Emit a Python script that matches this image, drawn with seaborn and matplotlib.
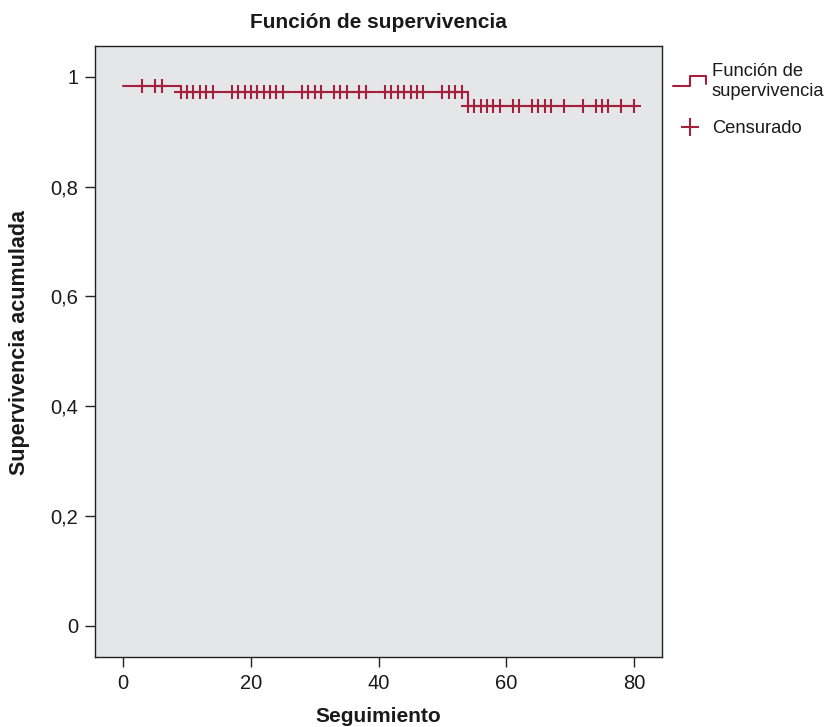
import matplotlib
matplotlib.use("Agg")
import matplotlib.pyplot as plt
import seaborn as sns
import pandas as pd
from matplotlib.legend_handler import HandlerBase
from matplotlib.lines import Line2D

# Data
step_times = [0, 9, 54, 80]
step_surv = [0.984, 0.973, 0.946, 0.946]
cens_times = [3, 5, 6,
              9, 10, 11, 12, 13, 14, 17, 18, 19, 20, 21, 22, 23, 24, 25,
              28, 29, 30, 31, 33, 34, 35, 37, 38, 41, 42, 43, 44, 45, 46, 47,
              50, 51, 52, 53,
              54, 55, 56, 57, 58, 59, 61, 62, 64, 65, 66, 67, 69, 72, 74, 75, 76, 78, 80]
x_ticks = [0, 20, 40, 60, 80]
y_ticks = [0, 0.2, 0.4, 0.6, 0.8, 1.0]
y_labels = ["0", "0,2", "0,4", "0,6", "0,8", "1"]


def surv_at(t):
    s = step_surv[0]
    for tt, ss in zip(step_times, step_surv):
        if t >= tt:
            s = ss
    return s

cens_surv = [surv_at(t) for t in cens_times]

df_step = pd.DataFrame({"t": step_times, "s": step_surv})
df_cens = pd.DataFrame({"t": cens_times, "s": cens_surv})

sns.set_style("white")
plt.rcParams['font.family'] = ['Liberation Sans', 'DejaVu Sans']
plt.rcParams['text.color'] = '#1a1a1a'
plt.rcParams['axes.labelcolor'] = '#1a1a1a'

color = "#A3213D"
fig = plt.figure(figsize=(8.29, 7.27), dpi=100)
ax = fig.add_axes([95/829, 1-657/727, (662-95)/829, (657-46)/727])
ax.set_facecolor("#E5E6E8")

sns.lineplot(data=df_step, x="t", y="s", drawstyle="steps-post", color=color,
             linewidth=1.5, ax=ax, estimator=None, sort=False)
sns.scatterplot(data=df_cens, x="t", y="s", marker="+", color=color, s=90,
                linewidth=1.5, ax=ax, zorder=3)

ax.set_xlim(-4.43, 84.4)
ax.set_ylim(-0.057, 1.056)
ax.set_xticks(x_ticks)
ax.set_xticklabels([str(v) for v in x_ticks])
ax.set_yticks(y_ticks)
ax.set_yticklabels(y_labels)
ax.tick_params(axis="both", direction="out", length=7, width=1, color="#222222",
               labelcolor="#1a1a1a", labelsize=14.5, bottom=True, left=True, pad=5)
for sp in ax.spines.values():
    sp.set_color("#222222")
    sp.set_linewidth(1.0)

ax.set_xlabel("Seguimiento", fontsize=15, fontweight="bold", labelpad=10)
ax.set_ylabel("Supervivencia acumulada", fontsize=15.5, fontweight="bold")
ax.yaxis.set_label_coords(-0.114, 0.515)
ax.set_title("Función de supervivencia", fontsize=15, fontweight="bold", pad=13)


class StepHandler(HandlerBase):
    def create_artists(self, legend, orig_handle, xdescent, ydescent, width, height, fontsize, trans):
        w, h = width, height
        xs = [-xdescent, -xdescent + 0.5*w, -xdescent + 0.5*w, -xdescent + w, -xdescent + w]
        ys = [-ydescent + 0.2*h, -ydescent + 0.2*h, -ydescent + 0.95*h, -ydescent + 0.95*h, -ydescent + 0.3*h]
        ln = Line2D(xs, ys, color=color, linewidth=1.5, transform=trans)
        return [ln]

step_handle = Line2D([], [], color=color)
cens_handle = Line2D([], [], color=color, marker="+", linestyle="none",
                     markersize=13, markeredgewidth=1.5)
leg = fig.legend([step_handle, cens_handle], ["Función de\nsupervivencia", "Censurado"],
                 handler_map={step_handle: StepHandler()},
                 loc="upper left", bbox_to_anchor=(666/829, 1-56/727),
                 frameon=False, fontsize=13.2, handlelength=1.8, handletextpad=0.3,
                 labelspacing=1.1, borderaxespad=0)

fig.savefig("out.png", dpi=100)
